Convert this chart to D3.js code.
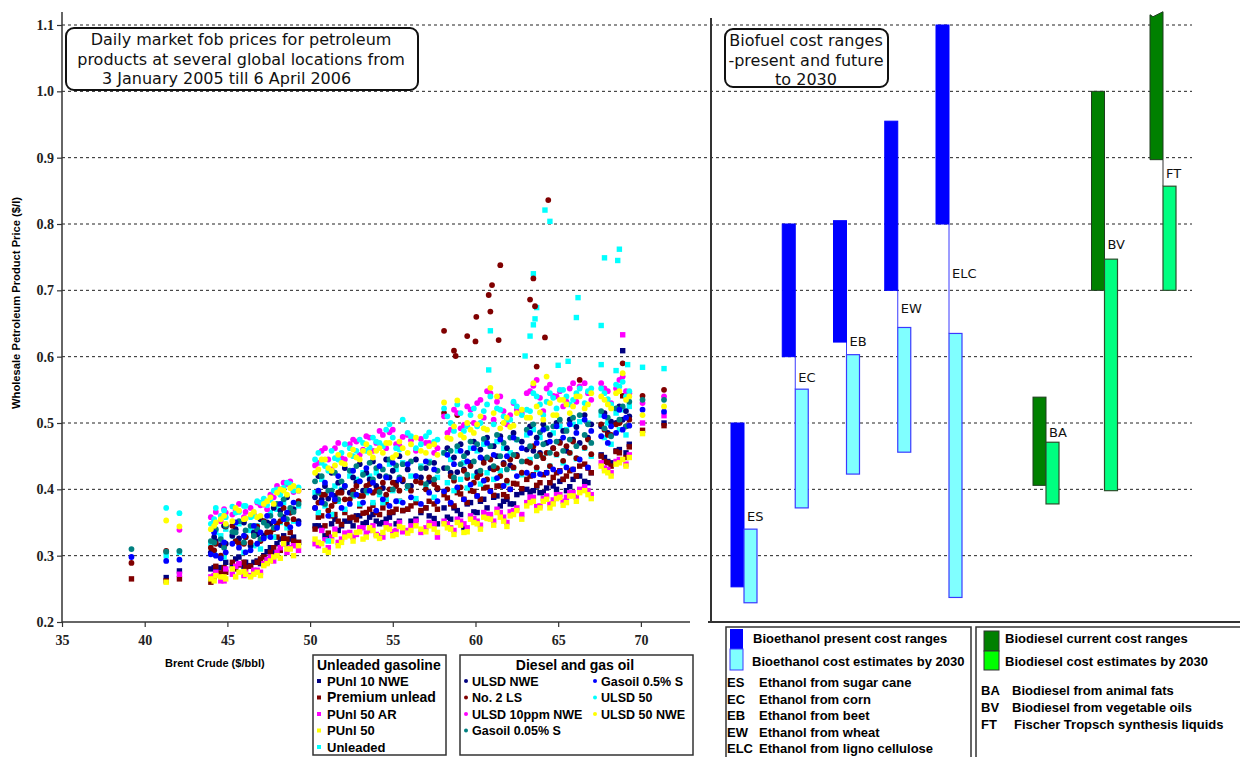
<!DOCTYPE html>
<html>
<head>
<meta charset="utf-8">
<script src="https://cdn.jsdelivr.net/npm/d3@7"></script>
<style>
  body { margin: 0; background: #fff; }
  svg { font-family: "Liberation Sans", Arial, sans-serif; }
</style>
</head>
<body>
<svg width="1240" height="757"></svg>
<script>
// ---- scatter: one entry per trading day (Brent $/bbl) and product prices ($/l)
const brent = [39.2, 41.3, 42.1, 44.0, 44.3, 44.6, 44.9, 45.3, 45.7, 46.1, 46.4, 46.8, 47.2, 47.6, 48.0, 48.4, 48.8, 49.3,
  50.3, 50.7, 51.1, 51.5, 51.9, 52.4, 52.8, 53.2, 53.6, 54.0, 54.4, 54.8, 55.2, 55.6, 56.1, 56.7, 57.2, 57.7,
  58.1, 58.5, 58.9, 59.3, 59.7, 60.1, 60.5, 60.9, 61.3, 61.7, 62.1, 62.5, 63.1, 63.5, 63.9, 64.3, 64.7, 65.1,
  65.5, 65.9, 66.3, 66.8, 67.6, 68.0, 68.5, 68.9, 69.3, 70.1, 71.4,
  44.2, 44.8, 45.5, 46.0, 46.6, 47.0, 47.4, 47.8, 48.2, 48.6, 49.0,
  50.5, 50.9, 51.3, 51.7, 52.1, 52.6, 53.0, 53.4, 53.8, 54.2, 54.6, 55.0, 55.4, 55.9, 56.4, 57.0, 57.5,
  58.3, 58.7, 59.1, 59.5, 59.9, 60.3, 60.7, 61.1, 61.5, 61.9, 62.3, 62.8,
  63.3, 63.7, 64.1, 64.5, 64.9, 65.3, 65.7, 66.1, 66.6, 67.0, 67.8, 68.2, 68.7, 69.1];

// unleaded gasoline
const punl10Nwe = [null, .267, .277, .280, .278, .282, .290, .285, .298, .290, .285, .292, .300, .312, .318, .330, .325, .320,
  .345, .342, .330, .355, .345, .352, .360, .348, .358, .352, .350, .358, .348, .368, .352, .365, .360, .348,
  .372, .355, .368, .342, .380, .365, .385, .360, .390, .382, .378, .392, .400, .398, .395, .402, .405, .412,
  .398, .415, .420, .410, .452, .442, .458, .609, .468, null, .500,
  .282, .276, .295, .284, .290, .288, .306, .305, .325, .318, .328,
  .345, .330, .348, .338, .352, .345, .360, .350, .362, .348, .355, .365, .352, .370, .355, .372, .356,
  .358, .372, .362, .378, .366, .382, .372, .388, .375, .385, .378, .395,
  .396, .405, .395, .410, .400, .415, .404, .420, .412, .425, .448, .440, .460, .455];
const premiumUnlead = [.265, .262, .265, .260, .284, .274, .275, .290, .286, .282, .284, .290, .298, .305, .328, .326, .335, .320,
  .340, .360, .334, .362, .347, .357, .354, .364, .370, .365, .372, .365, .370, .368, .375, .368, .382, .370,
  .392, .378, .395, .385, .398, .390, .402, .398, .405, .392, .400, .408, .415, .422, .410, .425, .418, .428,
  .420, .430, .435, .432, .450, .440, .457, .541, .464, .489, .496,
  .268, .282, .280, .290, .276, .295, .290, .312, .308, .325, .322,
  .358, .345, .360, .352, .365, .358, .375, .365, .376, .362, .380, .366, .382, .370, .380, .372, .378,
  .387, .375, .393, .380, .397, .385, .403, .391, .405, .389, .409, .401,
  .420, .406, .422, .410, .425, .415, .428, .420, .438, .425, .442, .435, .455, .448];
const punl50Ar = [null, null, .272, .268, .275, .262, .280, .272, .288, .275, .270, .278, .288, .298, .305, .318, .312, .308,
  .318, .338, .312, .340, .325, .335, .332, .342, .338, .332, .328, .345, .338, .336, .345, .335, .350, .328,
  .352, .342, .355, .348, .360, .352, .365, .362, .370, .358, .366, .372, .380, .388, .375, .390, .384, .392,
  .388, .395, .400, .398, .440, .430, .442, .633, .452, .500, .511,
  .270, .262, .284, .270, .278, .275, .294, .292, .312, .305, .315,
  .315, .324, .328, .320, .334, .328, .342, .334, .345, .330, .348, .336, .350, .338, .352, .342, .348,
  .348, .338, .352, .342, .356, .346, .362, .352, .365, .350, .368, .362,
  .388, .374, .386, .378, .392, .382, .395, .388, .404, .392, .432, .425, .445, .438];
const punl50 = [null, .260, null, .265, .270, .268, .265, .280, .275, .272, .268, .275, .285, .292, .300, .318, .310, .315,
  .325, .318, .305, .332, .320, .330, .335, .325, .342, .330, .335, .340, .332, .342, .338, .340, .345, .335,
  .348, .340, .350, .335, .355, .348, .358, .355, .365, .352, .360, .368, .375, .382, .372, .385, .378, .388,
  .380, .390, .395, .392, .435, .425, .438, .445, .448, .484, null,
  .262, .268, .268, .276, .272, .270, .288, .298, .296, .310, .300,
  .320, .308, .322, .315, .328, .322, .336, .328, .338, .326, .342, .330, .344, .334, .345, .336, .340,
  .342, .332, .346, .336, .350, .340, .356, .346, .358, .344, .362, .355,
  .380, .368, .382, .372, .386, .376, .390, .382, .398, .386, .428, .420, .440, .435];
const unleaded = [null, .300, .305, .318, .335, .330, .340, .330, .348, .328, .338, .345, .352, .365, .370, .380, .368, .375,
  .395, .415, .322, .405, .400, .420, .415, .425, .420, .425, .380, .438, .430, .440, .420, .435, .442, .418,
  .455, .445, .458, .440, .462, .458, .468, .465, .472, .462, .455, .475, .482, .490, .478, .492, .485, .495,
  .490, .498, .502, .500, .512, .500, .515, .520, .525, .584, .582,
  .305, .298, .322, .305, .315, .310, .330, .328, .350, .342, .352,
  .365, .375, .362, .382, .370, .390, .378, .395, .380, .392, .385, .398, .382, .402, .386, .405, .388,
  .410, .398, .415, .402, .420, .408, .425, .415, .428, .410, .432, .422,
  .445, .430, .448, .435, .452, .440, .455, .446, .462, .450, .478, .468, .490, .482];

// diesel and gas oil
const ulsdNwe = [null, null, null, .305, .322, .316, .318, .330, .326, .328, .315, .332, .330, .348, .345, .358, .365, .352,
  .388, .385, .386, .390, .398, .395, .410, .398, .415, .405, .402, .418, .410, .412, .405, .418, .412, .400,
  .432, .425, .426, .430, .440, .426, .445, .432, .450, .440, .436, .452, .460, .458, .455, .470, .462, .472,
  .458, .475, .470, .478, .495, .485, .500, .505, .510, null, null,
  .328, .345, .340, .350, .335, .355, .350, .372, .368, .388, .370,
  .420, .405, .425, .410, .432, .418, .438, .425, .442, .420, .445, .428, .450, .430, .445, .432, .440,
  .462, .448, .468, .455, .472, .460, .478, .465, .480, .462, .485, .472,
  .495, .478, .498, .482, .500, .488, .505, .494, .512, .498, .515, .502, .525, .518];
const no2Ls = [.289, .307, null, .312, .318, .300, .344, .345, .318, .328, .320, .344, .352, .335, .348, .372, .365, .382,
  .372, .392, .368, .382, .395, .385, .405, .390, .408, .398, .410, .400, .405, .415, .398, .410, .418, .402,
  .515, .420, .512, .428, .435, .418, .440, .445, .432, .438, .445, .450, .442, .465, .452, .455, .462, .470,
  .465, .472, .565, .475, .498, .482, .498, .590, .505, .541, .550,
  .308, .315, .322, .318, .330, .322, .335, .340, .352, .348, .355,
  .380, .392, .375, .395, .385, .398, .390, .405, .395, .400, .392, .410, .398, .405, .412, .400, .408,
  .400, .413, .403, .417, .410, .423, .415, .430, .420, .413, .433, .425,
  .440, .433, .447, .435, .453, .443, .455, .447, .463, .453, .490, .482, .500, .495];
const ulsd10Nwe = [null, null, .339, .358, .366, .352, .365, .362, .378, .366, .372, .380, .377, .392, .405, .410, .412, .398,
  .436, .458, .445, .462, .447, .468, .472, .460, .478, .470, .482, .486, .468, .479, .474, .476, .470, .462,
  .510, .490, .515, .497, .520, .530, .508, .545, .532, .518, .512, .520, .545, .556, .538, .552, .541, .548,
  .532, .560, .555, .545, .560, .548, .552, .570, .545, .530, .540,
  .352, .370, .368, .358, .362, .376, .370, .388, .400, .408, .396,
  .440, .462, .430, .470, .445, .475, .452, .480, .458, .488, .462, .490, .466, .482, .458, .470, .455,
  .485, .520, .492, .525, .500, .535, .548, .505, .540, .498, .530, .515,
  .548, .565, .518, .558, .540, .525, .552, .532, .560, .535, .552, .530, .565, .548];
const gasoil005 = [.310, .306, .307, .322, .340, .325, .345, .336, .352, .338, .345, .340, .350, .360, .378, .385, .372, .378,
  .412, .420, .398, .425, .412, .428, .435, .422, .440, .432, .430, .445, .436, .438, .442, .432, .440, .428,
  .455, .458, .465, .450, .472, .468, .476, .465, .482, .470, .478, .475, .490, .498, .486, .492, .495, .505,
  .488, .508, .512, .498, .518, .508, .522, .525, .532, .535, .535,
  .320, .312, .335, .320, .330, .325, .345, .342, .362, .355, .366,
  .395, .378, .398, .385, .405, .392, .412, .398, .415, .396, .420, .400, .418, .405, .420, .408, .415,
  .432, .418, .438, .422, .442, .428, .448, .435, .450, .430, .452, .442,
  .465, .450, .468, .455, .472, .458, .475, .465, .482, .470, .492, .480, .505, .495];
const gasoil05 = [.298, .292, .294, .302, .300, .296, .305, .318, .312, .305, .308, .318, .326, .328, .342, .355, .343, .348,
  .372, .380, .360, .385, .372, .378, .392, .380, .398, .368, .385, .375, .382, .380, .388, .378, .395, .382,
  .397, .380, .403, .385, .407, .390, .413, .397, .417, .405, .400, .420, .425, .421, .423, .425, .430, .427,
  .433, .430, .445, .433, .480, .470, .485, .490, .496, .520, .517,
  .335, .320, .350, .330, .345, .335, .360, .352, .378, .365, .380,
  .398, .410, .392, .420, .405, .428, .412, .432, .410, .435, .418, .440, .415, .438, .420, .442, .430,
  .452, .438, .458, .442, .462, .448, .470, .452, .475, .450, .478, .462,
  .485, .470, .490, .472, .495, .478, .498, .485, .505, .488, .510, .495, .520, .508];
const ulsd50 = [null, .372, .364, .348, .372, .360, .358, .374, .366, .375, .358, .382, .386, .384, .400, .402, .408, .403,
  .445, .440, .428, .447, .455, .462, .458, .470, .463, .472, .465, .498, .462, .505, .480, .468, .486, .475,
  .522, .500, .528, .488, .512, .495, .518, .540, .522, .510, .505, .525, .520, .545, .528, .532, .538, .550,
  .540, .535, .552, .548, .552, .536, .558, .562, .548, null, null,
  .355, .368, .365, .375, .360, .380, .376, .398, .392, .410, .398,
  .455, .435, .458, .445, .468, .450, .475, .458, .478, .470, .490, .478, .460, .485, .462, .480, .472,
  .510, .488, .515, .495, .522, .500, .528, .498, .520, .505, .532, .512,
  .518, .540, .512, .545, .522, .550, .528, .545, .530, .552, .545, .528, .555, .540];
const ulsd50Nwe = [null, .353, .344, .340, .350, .355, .348, .352, .368, .356, .362, .358, .378, .388, .395, .398, .402, .398,
  .425, .445, .432, .436, .440, .452, .448, .458, .455, .458, .455, .470, .452, .462, .468, .458, .465, .452,
  .531, .476, .534, .478, .490, .498, .492, .553, .540, .500, .494, .515, .508, .560, .516, .570, .512, .535,
  .528, .525, .540, .528, .540, .528, .545, .575, .540, .512, .525,
  .345, .360, .372, .355, .366, .360, .382, .378, .400, .392, .405,
  .430, .445, .428, .452, .438, .460, .445, .468, .448, .462, .470, .448, .472, .455, .478, .455, .468,
  .478, .495, .482, .500, .485, .510, .490, .515, .492, .508, .496, .520,
  .508, .525, .505, .530, .512, .535, .515, .540, .522, .545, .535, .522, .548, .535];

// autumn 2005 price spikes
const no2LsSpikeBrent = [58.1, 58.7, 58.8, 59.5, 60.0, 60.05, 60.8, 60.9, 61.0, 61.4, 61.5, 63.3, 63.5, 63.6, 63.7, 64.2, 64.4];
const no2LsSpike = [.639, .609, .601, .631, .623, .660, .693, .668, .708, .625, .738, .686, .718, .676, .585, .629, .836];
const unleadedSpikeBrent = [60.8, 60.9, 63.0, 63.3, 63.5, 63.5, 63.6, 63.7, 64.2, 64.5, 65.0, 65.6, 66.1, 66.2, 67.6, 67.6, 67.8, 68.5, 68.6, 68.7, 69.2];
const unleadedSpike = [.580, .639, .601, .631, .648, .725, .657, .674, .821, .804, .587, .593, .659, .689, .647, .588, .749, .579, .745, .762, .588];

// ---- biofuel cost ranges ($/l)
const ethCodes = ["ES", "EC", "EB", "EW", "ELC"];
const ethNames = ["Ethanol from sugar cane", "Ethanol from corn", "Ethanol from beet", "Ethanol from wheat", "Ethanol from ligno cellulose"];
const ethPresentLow = [0.253, 0.600, 0.622, 0.700, 0.800];
const ethPresentHigh = [0.500, 0.800, 0.805, 0.955, 1.100];
const eth2030Low = [0.229, 0.372, 0.423, 0.456, 0.237];
const eth2030High = [0.340, 0.551, 0.603, 0.644, 0.635];
const ethLabelAt = [0.360, 0.570, 0.623, 0.674, 0.726];

const dieCodes = ["BA", "BV", "FT"];
const dieNames = ["Biodiesel from animal fats", "Biodiesel from vegetable oils", "Fischer Tropsch synthesis liquids"];
const diePresentLow = [0.406, 0.700, 0.897];
const diePresentHigh = [0.539, 1.000, 1.120];
const die2030Low = [0.378, 0.398, 0.700];
const die2030High = [0.471, 0.747, 0.857];
const dieLabelAt = [0.486, 0.770, 0.877];

const yTicks = [0.2, 0.3, 0.4, 0.5, 0.6, 0.7, 0.8, 0.9, 1.0, 1.1];
const xTicks = [35, 40, 45, 50, 55, 60, 65, 70];

// ---- setup
const svg = d3.select("svg");
const x = d3.scaleLinear().domain([35, 73]).range([62, 690.5]);
const y = d3.scaleLinear().domain([0.2, 1.1]).range([622, 25]);
const yMax = 1.1;
const wide = "'DejaVu Sans', Verdana, sans-serif";

// gridlines across both panels
svg.append("g").selectAll("line")
  .data(yTicks.slice(1))
  .enter().append("line")
  .attr("x1", 62).attr("x2", 1192)
  .attr("y1", d => y(d)).attr("y2", d => y(d))
  .attr("stroke", "#222").attr("stroke-width", 1)
  .attr("stroke-dasharray", "3,3");

// axes of the scatter
const yAxis = svg.append("g").attr("transform", "translate(62,0)")
  .call(d3.axisLeft(y).tickValues(yTicks).tickFormat(d3.format(".1f")).tickSize(5).tickSizeOuter(0));
const xAxis = svg.append("g").attr("transform", "translate(0,622)")
  .call(d3.axisBottom(x).tickValues(xTicks).tickFormat(d3.format("d")).tickSize(5).tickSizeOuter(0));
[yAxis, xAxis].forEach(a => {
  a.select(".domain").remove();
  a.selectAll("line").attr("stroke", "#333").attr("stroke-width", 1.2);
  a.selectAll("text").attr("font-family", "'Liberation Serif', serif")
    .attr("font-weight", "bold").attr("font-size", 14).attr("fill", "#222");
});
xAxis.selectAll("text").attr("dy", "1.05em");
svg.append("line").attr("x1", 62).attr("x2", 62).attr("y1", 12).attr("y2", 622)
  .attr("stroke", "#333").attr("stroke-width", 1.5);
svg.append("line").attr("x1", 62).attr("x2", 690).attr("y1", 622).attr("y2", 622)
  .attr("stroke", "#333").attr("stroke-width", 1.5);

svg.append("text").attr("transform", "translate(20,303) rotate(-90)")
  .attr("text-anchor", "middle").attr("font-weight", "bold").attr("font-size", 11.2)
  .text("Wholesale Petroleum Product Price ($/l)");
svg.append("text").attr("x", 165).attr("y", 667)
  .attr("font-weight", "bold").attr("font-size", 11)
  .text("Brent Crude ($/bbl)");

// ---- scatter series
const gasoline = [
  { name: "PUnl 10 NWE", values: punl10Nwe, color: "#000080" },
  { name: "Premium unlead", values: premiumUnlead, color: "#800000" },
  { name: "PUnl 50 AR", values: punl50Ar, color: "#ff00ff" },
  { name: "PUnl 50", values: punl50, color: "#ffff00" },
  { name: "Unleaded", values: unleaded, color: "#00ffff" }
];
const diesel = [
  { name: "ULSD NWE", values: ulsdNwe, color: "#000080" },
  { name: "No. 2 LS", values: no2Ls, color: "#800000" },
  { name: "ULSD 10ppm NWE", values: ulsd10Nwe, color: "#ff00ff" },
  { name: "Gasoil 0.05% S", values: gasoil005, color: "#008080" },
  { name: "Gasoil 0.5% S", values: gasoil05, color: "#0000ff" },
  { name: "ULSD 50", values: ulsd50, color: "#00ffff" },
  { name: "ULSD 50 NWE", values: ulsd50Nwe, color: "#ffff00" }
];

const pts = svg.append("g");
function squares(xs, vs, color) {
  const d = xs.map((b, i) => [b, vs[i]]).filter(p => p[1] != null);
  pts.append("g").selectAll("rect").data(d).enter().append("rect")
    .attr("x", p => x(p[0]) - 2.7).attr("y", p => y(p[1]) - 2.7)
    .attr("width", 5.4).attr("height", 5.4).attr("fill", color);
}
function dots(xs, vs, color) {
  const d = xs.map((b, i) => [b, vs[i]]).filter(p => p[1] != null);
  pts.append("g").selectAll("circle").data(d).enter().append("circle")
    .attr("cx", p => x(p[0])).attr("cy", p => y(p[1])).attr("r", 2.9).attr("fill", color);
}
gasoline.forEach(s => squares(brent, s.values, s.color));
diesel.forEach(s => dots(brent, s.values, s.color));
squares(unleadedSpikeBrent, unleadedSpike, "#00ffff");
dots(no2LsSpikeBrent, no2LsSpike, "#800000");

// ---- title boxes
function titleBox(x0, y0, w, h, lines, cx) {
  svg.append("rect").attr("x", x0).attr("y", y0).attr("width", w).attr("height", h)
    .attr("rx", 8).attr("fill", "#fff").attr("stroke", "#111").attr("stroke-width", 2);
  lines.forEach((t, i) => {
    svg.append("text").attr("x", t.x != null ? t.x : cx).attr("y", y0 + 17 + i * 19.5)
      .attr("text-anchor", t.x != null ? "start" : "middle")
      .attr("font-family", wide).attr("font-size", 16).attr("fill", "#111")
      .text(t.text);
  });
}
titleBox(66, 28, 352, 62, [
  { text: "Daily market fob prices for petroleum" },
  { text: "products at several global locations from" },
  { text: "3 January 2005 till 6 April 2006", x: 102 }
], 241);
titleBox(725, 29, 163, 58, [
  { text: "Biofuel cost ranges" },
  { text: "-present and future" },
  { text: "to 2030" }
], 806);

// ---- right panel frame
svg.append("line").attr("x1", 711).attr("x2", 711).attr("y1", 18).attr("y2", 622)
  .attr("stroke", "#333").attr("stroke-width", 2);
svg.append("line").attr("x1", 708).attr("x2", 1240).attr("y1", 622).attr("y2", 622)
  .attr("stroke", "#333").attr("stroke-width", 2);

// ---- biofuel bars
const barW = 13;
function barGroup(codes, pLow, pHigh, fLow, fHigh, labelAt, xs, st) {
  const g = svg.append("g");
  codes.forEach((c, i) => {
    const bx = xs(c);
    // connector between present and 2030 range
    if (pLow[i] > fHigh[i]) {
      g.append("line").attr("x1", bx).attr("x2", bx)
        .attr("y1", y(pLow[i])).attr("y2", y(fHigh[i]))
        .attr("stroke", st.line).attr("stroke-width", 1);
    }
    // present range; torn top when it runs off the scale
    const l = bx - barW, r = bx, b = y(pLow[i]);
    if (pHigh[i] > yMax) {
      const t = y(pHigh[i]);
      g.append("path")
        .attr("d", `M${l},${t + 3}L${l + 3},${t + 5}L${r},${t}L${r},${b}L${l},${b}Z`)
        .attr("fill", st.present).attr("stroke", st.presentStroke).attr("stroke-width", 1);
    } else {
      g.append("rect").attr("x", l).attr("y", y(pHigh[i]))
        .attr("width", barW).attr("height", b - y(pHigh[i]))
        .attr("fill", st.present).attr("stroke", st.presentStroke).attr("stroke-width", 1);
    }
    g.append("rect").attr("x", bx).attr("y", y(fHigh[i]))
      .attr("width", barW).attr("height", y(fLow[i]) - y(fHigh[i]))
      .attr("fill", st.future).attr("stroke", st.futureStroke).attr("stroke-width", 1.2);
    g.append("text").attr("x", bx + 3).attr("y", y(labelAt[i]) + 5)
      .attr("font-family", wide).attr("font-size", 13).attr("fill", "#111").text(c);
  });
}
const xEth = d3.scalePoint().domain(ethCodes).range([744, 949]);
const xDie = d3.scalePoint().domain(dieCodes).range([1046, 1163]);
barGroup(ethCodes, ethPresentLow, ethPresentHigh, eth2030Low, eth2030High, ethLabelAt, xEth,
  { present: "#0000ff", presentStroke: "#0000ff", future: "#80ffff", futureStroke: "#3a3aff", line: "#3a3aff" });
barGroup(dieCodes, diePresentLow, diePresentHigh, die2030Low, die2030High, dieLabelAt, xDie,
  { present: "#008000", presentStroke: "#1f3d1f", future: "#00ff80", futureStroke: "#2b4f2b", line: "#333" });

// ---- legends, scatter
function box(x0, y0, w, h) {
  svg.append("rect").attr("x", x0).attr("y", y0).attr("width", w).attr("height", h)
    .attr("fill", "#fff").attr("stroke", "#333").attr("stroke-width", 1.5);
}
box(313, 655, 133, 100);
svg.append("text").attr("x", 317).attr("y", 670).attr("font-weight", "bold")
  .attr("font-size", 14).text("Unleaded gasoline");
gasoline.forEach((s, i) => {
  const yy = 681 + i * 16.5;
  svg.append("rect").attr("x", 317).attr("y", yy - 2).attr("width", 4).attr("height", 4).attr("fill", s.color);
  svg.append("text").attr("x", 327).attr("y", yy + 4.5).attr("font-weight", "bold")
    .attr("font-size", i === 1 ? 14 : 13).text(s.name);
});
box(460, 655, 233, 100);
svg.append("text").attr("x", 575).attr("y", 670).attr("text-anchor", "middle").attr("font-weight", "bold")
  .attr("font-size", 14).text("Diesel and gas oil");
diesel.forEach((s, i) => {
  const col = i < 4 ? 0 : 1, row = i < 4 ? i : i - 4;
  const lx = col ? 594 : 465, yy = 681 + row * 16.5;
  svg.append("circle").attr("cx", lx + 1).attr("cy", yy).attr("r", 2).attr("fill", s.color);
  svg.append("text").attr("x", lx + 7).attr("y", yy + 4.5).attr("font-weight", "bold")
    .attr("font-size", 12.5).text(s.name);
});

// ---- legends, biofuel
const bf = 13;
box(726, 627, 245, 140);
svg.append("rect").attr("x", 730).attr("y", 629).attr("width", 13).attr("height", 20).attr("fill", "#0000ff");
svg.append("rect").attr("x", 730).attr("y", 649).attr("width", 13).attr("height", 21)
  .attr("fill", "#80ffff").attr("stroke", "#3a3aff");
svg.append("text").attr("x", 753).attr("y", 643).attr("font-weight", "bold").attr("font-size", bf)
  .text("Bioethanol present cost ranges");
svg.append("text").attr("x", 752).attr("y", 666).attr("font-weight", "bold").attr("font-size", bf)
  .text("Bioethanol cost estimates by 2030");
ethCodes.forEach((c, i) => {
  const yy = 687 + i * 16.6;
  svg.append("text").attr("x", 727).attr("y", yy).attr("font-weight", "bold").attr("font-size", bf).text(c);
  svg.append("text").attr("x", 759).attr("y", yy).attr("font-weight", "bold").attr("font-size", bf).text(ethNames[i]);
});
box(976, 627, 270, 140);
svg.append("rect").attr("x", 984).attr("y", 631).attr("width", 15).attr("height", 20)
  .attr("fill", "#008000").attr("stroke", "#333");
svg.append("rect").attr("x", 984).attr("y", 651).attr("width", 15).attr("height", 19)
  .attr("fill", "#00ff00").attr("stroke", "#333");
svg.append("text").attr("x", 1005).attr("y", 643).attr("font-weight", "bold").attr("font-size", bf)
  .text("Biodiesel current cost ranges");
svg.append("text").attr("x", 1005).attr("y", 666).attr("font-weight", "bold").attr("font-size", bf)
  .text("Biodiesel cost estimates by 2030");
dieCodes.forEach((c, i) => {
  const yy = 695 + i * 17;
  svg.append("text").attr("x", 981).attr("y", yy).attr("font-weight", "bold").attr("font-size", bf).text(c);
  svg.append("text").attr("x", i === 2 ? 1014 : 1012).attr("y", yy).attr("font-weight", "bold").attr("font-size", bf).text(dieNames[i]);
});
</script>
</body>
</html>
